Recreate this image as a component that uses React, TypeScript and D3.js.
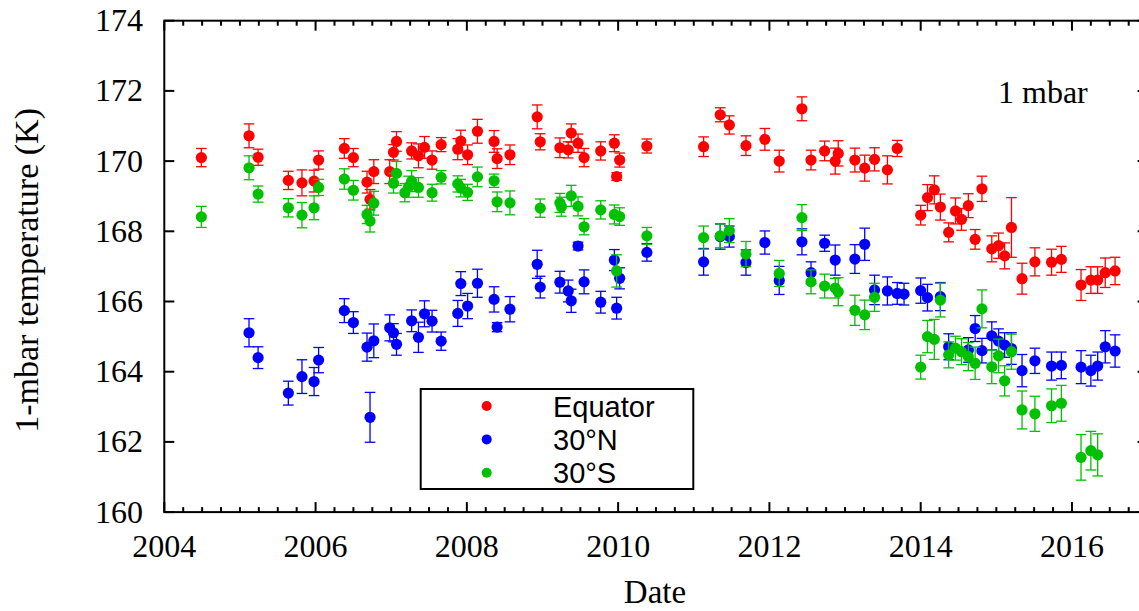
import React from "react";
import * as d3 from "d3";

// [decimal year, temperature (K), 1-sigma error (K)]
const equator: [number, number, number][] = [
  [2004.49, 170.10, 0.26], [2005.12, 170.72, 0.34], [2005.24, 170.11, 0.23], [2005.64, 169.45, 0.26],
  [2005.82, 169.38, 0.37], [2005.98, 169.43, 0.31], [2006.04, 170.03, 0.26], [2006.38, 170.36, 0.28],
  [2006.50, 170.10, 0.26], [2006.68, 169.40, 0.31], [2006.72, 168.91, 0.28], [2006.77, 169.70, 0.34],
  [2006.98, 169.70, 0.34], [2007.03, 170.25, 0.22], [2007.07, 170.56, 0.28], [2007.27, 170.29, 0.23],
  [2007.36, 170.15, 0.34], [2007.44, 170.39, 0.31], [2007.54, 170.03, 0.26], [2007.66, 170.47, 0.20],
  [2007.88, 170.34, 0.30], [2007.92, 170.57, 0.31], [2008.01, 170.18, 0.28], [2008.14, 170.85, 0.34],
  [2008.36, 170.56, 0.31], [2008.40, 170.07, 0.28], [2008.57, 170.18, 0.28], [2008.93, 171.26, 0.34],
  [2008.97, 170.55, 0.23], [2009.23, 170.38, 0.28], [2009.34, 170.32, 0.23], [2009.38, 170.80, 0.26],
  [2009.47, 170.51, 0.26], [2009.55, 170.10, 0.26], [2009.77, 170.29, 0.26], [2009.95, 170.51, 0.24],
  [2009.98, 169.56, 0.11], [2010.02, 170.03, 0.20], [2010.38, 170.43, 0.20], [2011.13, 170.41, 0.28],
  [2011.35, 171.32, 0.20], [2011.47, 171.03, 0.26], [2011.69, 170.44, 0.28], [2011.94, 170.62, 0.31],
  [2012.13, 170.00, 0.31], [2012.43, 171.49, 0.34], [2012.55, 170.03, 0.28], [2012.73, 170.29, 0.28],
  [2012.87, 170.00, 0.37], [2012.91, 170.22, 0.36], [2013.13, 170.03, 0.34], [2013.26, 169.80, 0.37],
  [2013.39, 170.05, 0.33], [2013.56, 169.75, 0.40], [2013.69, 170.36, 0.23], [2014.00, 168.46, 0.28],
  [2014.09, 168.96, 0.37], [2014.18, 169.18, 0.40], [2014.26, 168.69, 0.37], [2014.37, 167.97, 0.27],
  [2014.46, 168.58, 0.37], [2014.54, 168.34, 0.31], [2014.63, 168.73, 0.34], [2014.72, 167.77, 0.28],
  [2014.81, 169.21, 0.36], [2014.94, 167.50, 0.37], [2015.03, 167.59, 0.36], [2015.11, 167.30, 0.37],
  [2015.20, 168.11, 0.85], [2015.34, 166.65, 0.44], [2015.51, 167.13, 0.40], [2015.73, 167.12, 0.37],
  [2015.86, 167.20, 0.37], [2016.12, 166.47, 0.44], [2016.25, 166.61, 0.38], [2016.34, 166.61, 0.38],
  [2016.44, 166.82, 0.42], [2016.57, 166.87, 0.39],
];

const north30: [number, number, number][] = [
  [2005.12, 165.11, 0.40], [2005.24, 164.40, 0.31], [2005.64, 163.39, 0.34], [2005.82, 163.86, 0.48],
  [2005.98, 163.72, 0.40], [2006.04, 164.33, 0.36], [2006.38, 165.74, 0.34], [2006.50, 165.40, 0.31],
  [2006.68, 164.70, 0.40], [2006.72, 162.70, 0.71], [2006.77, 164.88, 0.48], [2006.98, 165.25, 0.37],
  [2007.03, 165.11, 0.26], [2007.07, 164.78, 0.31], [2007.27, 165.45, 0.31], [2007.36, 164.98, 0.43],
  [2007.44, 165.65, 0.37], [2007.54, 165.44, 0.31], [2007.66, 164.87, 0.26], [2007.88, 165.66, 0.37],
  [2007.92, 166.51, 0.34], [2008.01, 165.87, 0.36], [2008.14, 166.52, 0.40], [2008.36, 166.06, 0.36],
  [2008.40, 165.27, 0.13], [2008.57, 165.78, 0.36], [2008.93, 167.06, 0.40], [2008.97, 166.41, 0.31],
  [2009.23, 166.55, 0.31], [2009.34, 166.30, 0.31], [2009.38, 166.02, 0.33], [2009.47, 167.58, 0.11],
  [2009.55, 166.56, 0.34], [2009.77, 165.98, 0.31], [2009.95, 167.18, 0.30], [2009.98, 165.81, 0.31],
  [2010.02, 166.66, 0.30], [2010.38, 167.40, 0.25], [2011.13, 167.13, 0.38], [2011.35, 167.85, 0.36],
  [2011.47, 167.85, 0.30], [2011.69, 167.11, 0.36], [2011.94, 167.68, 0.33], [2012.13, 166.60, 0.40],
  [2012.43, 167.70, 0.37], [2012.55, 166.82, 0.31], [2012.73, 167.66, 0.23], [2012.87, 167.18, 0.43],
  [2013.13, 167.21, 0.41], [2013.26, 167.63, 0.46], [2013.39, 166.33, 0.42], [2013.56, 166.30, 0.40],
  [2013.69, 166.23, 0.31], [2013.78, 166.21, 0.31], [2014.00, 166.31, 0.36], [2014.09, 166.11, 0.38],
  [2014.26, 166.14, 0.40], [2014.37, 164.71, 0.37], [2014.63, 164.62, 0.35], [2014.72, 165.23, 0.37],
  [2014.81, 164.60, 0.35], [2014.94, 165.02, 0.40], [2015.03, 164.87, 0.35], [2015.11, 164.76, 0.35],
  [2015.20, 164.66, 0.45], [2015.34, 164.03, 0.46], [2015.51, 164.31, 0.36], [2015.73, 164.16, 0.40],
  [2015.86, 164.18, 0.38], [2016.12, 164.13, 0.47], [2016.25, 164.03, 0.44], [2016.34, 164.16, 0.40],
  [2016.44, 164.71, 0.46], [2016.57, 164.59, 0.46],
];

const south30: [number, number, number][] = [
  [2004.49, 168.41, 0.30], [2005.12, 169.81, 0.34], [2005.24, 169.06, 0.23], [2005.64, 168.67, 0.26],
  [2005.82, 168.46, 0.36], [2005.98, 168.67, 0.34], [2006.04, 169.25, 0.23], [2006.38, 169.49, 0.29],
  [2006.50, 169.17, 0.28], [2006.68, 168.48, 0.26], [2006.72, 168.29, 0.31], [2006.77, 168.80, 0.34],
  [2007.03, 169.37, 0.28], [2007.07, 169.65, 0.34], [2007.18, 169.10, 0.26], [2007.23, 169.27, 0.30],
  [2007.27, 169.43, 0.30], [2007.36, 169.25, 0.28], [2007.54, 169.10, 0.24], [2007.66, 169.54, 0.19],
  [2007.88, 169.35, 0.23], [2007.92, 169.23, 0.25], [2008.01, 169.11, 0.23], [2008.14, 169.55, 0.28],
  [2008.36, 169.44, 0.19], [2008.40, 168.84, 0.28], [2008.57, 168.81, 0.34], [2008.97, 168.66, 0.26],
  [2009.23, 168.81, 0.27], [2009.25, 168.70, 0.27], [2009.38, 169.01, 0.30], [2009.47, 168.71, 0.27],
  [2009.55, 168.13, 0.23], [2009.77, 168.61, 0.26], [2009.95, 168.48, 0.27], [2009.98, 166.87, 0.46],
  [2010.02, 168.42, 0.25], [2010.38, 167.87, 0.24], [2011.13, 167.82, 0.33], [2011.35, 167.87, 0.34],
  [2011.47, 168.02, 0.34], [2011.69, 167.35, 0.36], [2012.13, 166.80, 0.37], [2012.43, 168.39, 0.37],
  [2012.55, 166.56, 0.34], [2012.73, 166.44, 0.34], [2012.87, 166.38, 0.28], [2012.91, 166.28, 0.40],
  [2013.13, 165.75, 0.43], [2013.26, 165.62, 0.42], [2013.39, 166.12, 0.40], [2014.00, 164.13, 0.34],
  [2014.09, 165.00, 0.46], [2014.18, 164.92, 0.57], [2014.26, 166.04, 0.48], [2014.37, 164.48, 0.37],
  [2014.46, 164.67, 0.34], [2014.54, 164.57, 0.37], [2014.63, 164.43, 0.40], [2014.72, 164.24, 0.46],
  [2014.81, 165.79, 0.54], [2014.94, 164.14, 0.48], [2015.03, 164.45, 0.48], [2015.11, 163.74, 0.43],
  [2015.20, 164.57, 0.50], [2015.34, 162.91, 0.54], [2015.51, 162.80, 0.50], [2015.73, 163.03, 0.48],
  [2015.86, 163.10, 0.51], [2016.12, 161.56, 0.65], [2016.25, 161.75, 0.55], [2016.34, 161.63, 0.60],
];

const seriesNames = ["Equator", "30°N", "30°S"];
const seriesColors = ["#ff0000", "#0000ff", "#00c000"];
const xTickYears = [2004, 2006, 2008, 2010, 2012, 2014, 2016];
const yTickValues = [160, 162, 164, 166, 168, 170, 172, 174];

const W = 1139;
const H = 611;
const serif = "'Liberation Serif', 'Times New Roman', Times, serif";
const sans = "'Liberation Sans', Arial, Helvetica, sans-serif";

export default function App() {
  const x = d3.scaleLinear().domain([2004, 2017]).range([164.3, 1147.6]);
  const y = d3.scaleLinear().domain([160, 174]).range([512.1, 20.7]);
  const [x0, x1] = x.range();
  const [yb, yt] = y.range();

  const minorYears = d3.range(2004, 2017.001, 0.25).filter((v) => Math.abs(v / 2 - Math.round(v / 2)) > 1e-6);

  const allSeries = [equator, north30, south30];

  return (
    <svg width={W} height={H} style={{ position: "absolute", left: 0, top: 0, background: "#fff" }}>
      <rect x={0} y={0} width={W} height={H} fill="#fff" />

      {/* data with error bars */}
      {allSeries.map((rows, si) => (
        <g key={si} stroke={seriesColors[si]} fill={seriesColors[si]}>
          {rows.map(([d, t, e], i) => {
            const cx = x(d);
            const top = y(t + e);
            const bot = y(t - e);
            return (
              <g key={i}>
                <line x1={cx} x2={cx} y1={top} y2={bot} strokeWidth={1.3} />
                <line x1={cx - 5.3} x2={cx + 5.3} y1={top} y2={top} strokeWidth={1.3} />
                <line x1={cx - 5.3} x2={cx + 5.3} y1={bot} y2={bot} strokeWidth={1.3} />
                <circle cx={cx} cy={y(t)} r={5.6} stroke="none" />
              </g>
            );
          })}
        </g>
      ))}

      {/* frame */}
      <rect x={x0} y={yt} width={x1 - x0} height={yb - yt} fill="none" stroke="#000" strokeWidth={2} />

      {/* x ticks, bottom and top */}
      {xTickYears.map((v) => (
        <g key={"xt" + v}>
          <line x1={x(v)} x2={x(v)} y1={yb} y2={yb - 10} stroke="#000" strokeWidth={2} />
          <line x1={x(v)} x2={x(v)} y1={yt} y2={yt + 10} stroke="#000" strokeWidth={2} />
          <text x={x(v)} y={557} textAnchor="middle" fontFamily={serif} fontSize={32} fill="#000">
            {v}
          </text>
        </g>
      ))}
      {minorYears.map((v) => (
        <g key={"xm" + v}>
          <line x1={x(v)} x2={x(v)} y1={yb} y2={yb - 5} stroke="#000" strokeWidth={2} />
          <line x1={x(v)} x2={x(v)} y1={yt} y2={yt + 5} stroke="#000" strokeWidth={2} />
        </g>
      ))}

      {/* y ticks, left and right */}
      {yTickValues.map((v) => (
        <g key={"yt" + v}>
          <line x1={x0} x2={x0 + 10} y1={y(v)} y2={y(v)} stroke="#000" strokeWidth={2} />
          <line x1={x1} x2={x1 - 10} y1={y(v)} y2={y(v)} stroke="#000" strokeWidth={2} />
          <text x={143} y={y(v) + 10.5} textAnchor="end" fontFamily={serif} fontSize={32} fill="#000">
            {v}
          </text>
        </g>
      ))}

      {/* axis titles */}
      <text x={655} y={603} textAnchor="middle" fontFamily={serif} fontSize={33} fill="#000">
        Date
      </text>
      <text
        transform={`translate(37.5, ${(yt + yb) / 2 + 4}) rotate(-90)`}
        textAnchor="middle"
        fontFamily={serif}
        fontSize={34}
        fill="#000"
      >
        1-mbar temperature (K)
      </text>

      {/* pressure level annotation */}
      <text x={998} y={103} fontFamily={serif} fontSize={32} fill="#000">
        1 mbar
      </text>

      {/* legend */}
      <rect x={420.7} y={389} width={272.6} height={100} fill="#fff" stroke="#000" strokeWidth={2} />
      {seriesNames.map((name, i) => {
        const cy = 406 + i * 33.4;
        return (
          <g key={name}>
            <circle cx={486.7} cy={cy} r={5} fill={seriesColors[i]} />
            <text x={553} y={cy + 10.5} fontFamily={sans} fontSize={29} fill="#000">
              {name}
            </text>
          </g>
        );
      })}
    </svg>
  );
}
